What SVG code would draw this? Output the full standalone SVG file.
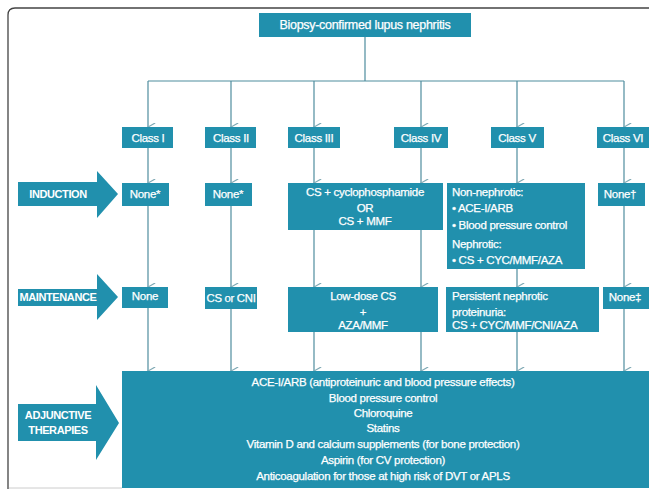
<svg xmlns="http://www.w3.org/2000/svg" width="649" height="491" viewBox="0 0 649 491">
<defs>
<style>
.box{fill:#2190ad}
.t{font-family:"Liberation Sans",Arial,sans-serif;font-size:11.5px;fill:#fff;stroke:#fff;stroke-width:0.25;text-anchor:middle;letter-spacing:-0.3px}
.tl{text-anchor:start}
.lbl{font-family:"Liberation Sans",Arial,sans-serif;font-size:11px;font-weight:bold;fill:#fff;text-anchor:middle;letter-spacing:-0.4px}
.c{fill:none;stroke:#4f8d9e;stroke-width:1.2}
</style>
<marker id="ah" viewBox="0 0 10 10" refX="5" refY="9" markerWidth="9" markerHeight="9" markerUnits="userSpaceOnUse" orient="auto-start-reverse">
<path d="M0.5,1 L5,9 L9.5,1" fill="none" stroke="#7fa9b4" stroke-width="1.3"/>
</marker>
</defs>
<rect width="649" height="491" fill="#fff"/>
<path d="M8,489 L8,15 Q8,8 15,8 L649,8" fill="none" stroke="#444" stroke-width="1.3"/>
<line x1="9" y1="488" x2="122" y2="488" stroke="#ccc" stroke-width="1"/>

<g id="connectors">
<path class="c" d="M365,37 V81 M148,81 H624"/>
<path class="c" marker-end="url(#ah)" d="M148,81 V127"/>
<path class="c" marker-end="url(#ah)" d="M231,81 V127"/>
<path class="c" marker-end="url(#ah)" d="M314,81 V127"/>
<path class="c" marker-end="url(#ah)" d="M421,81 V127"/>
<path class="c" marker-end="url(#ah)" d="M517,81 V127"/>
<path class="c" marker-end="url(#ah)" d="M624,81 V127"/>
<path class="c" marker-end="url(#ah)" d="M148,148 V183"/>
<path class="c" marker-end="url(#ah)" d="M231,148 V183"/>
<path class="c" marker-end="url(#ah)" d="M314,148 V183"/>
<path class="c" marker-end="url(#ah)" d="M421,148 V183"/>
<path class="c" marker-end="url(#ah)" d="M517,148 V183"/>
<path class="c" marker-end="url(#ah)" d="M624,148 V183"/>
<path class="c" marker-end="url(#ah)" d="M148,206 V287"/>
<path class="c" marker-end="url(#ah)" d="M231,206 V287"/>
<path class="c" marker-end="url(#ah)" d="M314,230 V287"/>
<path class="c" marker-end="url(#ah)" d="M421,230 V287"/>
<path class="c" marker-end="url(#ah)" d="M517,269 V287"/>
<path class="c" marker-end="url(#ah)" d="M624,206 V287"/>
<path class="c" marker-end="url(#ah)" d="M148,308 V371"/>
<path class="c" marker-end="url(#ah)" d="M231,309 V371"/>
<path class="c" marker-end="url(#ah)" d="M314,332 V371"/>
<path class="c" marker-end="url(#ah)" d="M421,332 V371"/>
<path class="c" marker-end="url(#ah)" d="M517,332 V371"/>
<path class="c" marker-end="url(#ah)" d="M624,309 V371"/>
</g>

<g id="root"><rect class="box" x="259" y="13" width="212" height="24"/><text class="t" x="365" y="29" style="font-size:12.5px">Biopsy-confirmed lupus nephritis</text></g>

<g id="class1"><rect class="box" x="122" y="127" width="51" height="21"/><text class="t" x="148" y="142">Class I</text></g>
<g id="class2"><rect class="box" x="205" y="127" width="51" height="21"/><text class="t" x="231" y="142">Class II</text></g>
<g id="class3"><rect class="box" x="288" y="127" width="52" height="21"/><text class="t" x="314" y="142">Class III</text></g>
<g id="class4"><rect class="box" x="394" y="127" width="54" height="21"/><text class="t" x="421" y="142">Class IV</text></g>
<g id="class5"><rect class="box" x="491" y="127" width="53" height="21"/><text class="t" x="517" y="142">Class V</text></g>
<g id="class6"><rect class="box" x="597" y="127" width="52" height="21"/><text class="t" x="623" y="142">Class VI</text></g>

<g id="induction-label"><path class="box" d="M18,182 H97 V171 L118,194 L97,218 V206 H18 Z"/><text class="lbl" x="58" y="198">INDUCTION</text></g>
<g id="maintenance-label"><path class="box" d="M18,289 H97 V274 L118,297 L97,320 V306 H18 Z"/><text class="lbl" x="58" y="301">MAINTENANCE</text></g>
<g id="adjunctive-label"><path class="box" d="M18,404 H96 V385 L119,423 L96,460 V441 H18 Z"/><text class="lbl" x="58" y="419">ADJUNCTIVE</text><text class="lbl" x="58" y="434">THERAPIES</text></g>

<g id="ind1"><rect class="box" x="122" y="183" width="47" height="23"/><text class="t" x="145" y="198">None*</text></g>
<g id="ind2"><rect class="box" x="205" y="183" width="47" height="23"/><text class="t" x="228" y="198">None*</text></g>
<g id="ind34"><rect class="box" x="288" y="183" width="155" height="47"/><text class="t" x="365" y="196">CS + cyclophosphamide</text><text class="t" x="365" y="212">OR</text><text class="t" x="365" y="225">CS + MMF</text></g>
<g id="ind5"><rect class="box" x="447" y="183" width="138" height="86"/>
<text class="t tl" x="452" y="196">Non-nephrotic:</text>
<text class="t tl" x="452" y="212">• ACE-I/ARB</text>
<text class="t tl" x="452" y="229">• Blood pressure control</text>
<text class="t tl" x="452" y="248">Nephrotic:</text>
<text class="t tl" x="452" y="264">• CS + CYC/MMF/AZA</text></g>
<g id="ind6"><rect class="box" x="598" y="183" width="47" height="23"/><text class="t" x="620" y="198">None†</text></g>

<g id="main1"><rect class="box" x="122" y="287" width="46" height="21"/><text class="t" x="145" y="300">None</text></g>
<g id="main2"><rect class="box" x="205" y="287" width="52" height="22"/><text class="t" x="231" y="302" textLength="49" lengthAdjust="spacingAndGlyphs">CS or CNI</text></g>
<g id="main34"><rect class="box" x="288" y="287" width="150" height="45"/><text class="t" x="363" y="300">Low-dose CS</text><text class="t" x="363" y="316">+</text><text class="t" x="363" y="329">AZA/MMF</text></g>
<g id="main5"><rect class="box" x="446" y="287" width="153" height="45"/>
<text class="t tl" x="452" y="300">Persistent nephrotic</text>
<text class="t tl" x="452" y="316">proteinuria:</text>
<text class="t tl" x="452" y="329">CS + CYC/MMF/CNI/AZA</text></g>
<g id="main6"><rect class="box" x="603" y="287" width="46" height="22"/><text class="t" x="625" y="301">None‡</text></g>

<g id="adjunctive"><rect class="box" x="122" y="371" width="527" height="117"/>
<text class="t" x="383" y="386">ACE-I/ARB (antiproteinuric and blood pressure effects)</text>
<text class="t" x="383" y="402">Blood pressure control</text>
<text class="t" x="383" y="417">Chloroquine</text>
<text class="t" x="383" y="432">Statins</text>
<text class="t" x="383" y="448">Vitamin D and calcium supplements (for bone protection)</text>
<text class="t" x="383" y="464">Aspirin (for CV protection)</text>
<text class="t" x="383" y="480">Anticoagulation for those at high risk of DVT or APLS</text></g>
</svg>
